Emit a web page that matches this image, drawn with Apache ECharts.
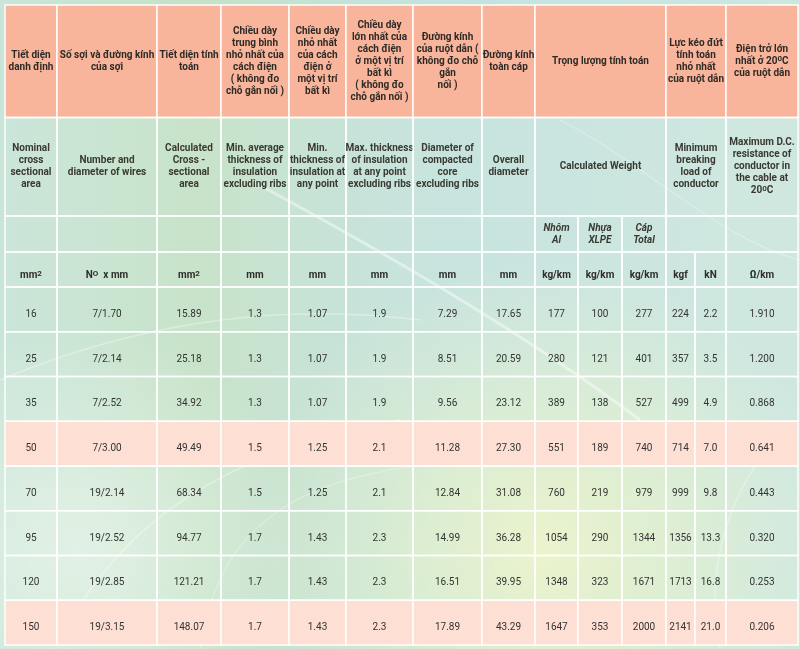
<!DOCTYPE html>
<html>
<head>
<meta charset="utf-8">
<script src="https://cdn.jsdelivr.net/npm/echarts@6/dist/echarts.min.js"></script>
<style>
  html, body { margin: 0; padding: 0; }
  #main { width: 800px; height: 649px; }
</style>
</head>
<body>
<div id="main"></div>
<script>
// tiêu đề cột (tiếng Việt)
const headVi = [
  'Tiết diện\ndanh định',
  'Số sợi và đường kính\ncủa sợi',
  'Tiết diện tính\ntoán',
  'Chiều dày\ntrung bình\nnhỏ nhất của\ncách điện\n( không đo\nchỗ gắn nối )',
  'Chiều dày\nnhỏ nhất\ncủa cách\nđiện ở\nmột vị trí\nbất kì',
  'Chiều dày\nlớn nhất của\ncách điện\nở một vị trí\nbất kì\n( không đo\nchỗ gắn nối )',
  'Đường kính\ncủa ruột dẫn (\nkhông đo chỗ\ngắn\nnối )',
  'Đường kính\ntoàn cáp',
  'Trọng lượng tính toán',
  'Lực kéo đứt\ntính toán\nnhỏ nhất\ncủa ruột dẫn',
  'Điện trở lớn\nnhất ở 20{s|0}C\ncủa ruột dẫn'
]
// tiêu đề cột (tiếng Anh)
const headEn = [
  'Nominal\ncross\nsectional\narea',
  'Number and\ndiameter of wires',
  'Calculated\nCross -\nsectional\narea',
  'Min. average\nthickness of\ninsulation\nexcluding ribs',
  'Min.\nthickness of\ninsulation at\nany point',
  'Max. thickness\nof insulation\nat any point\nexcluding ribs',
  'Diameter of\ncompacted\ncore\nexcluding ribs',
  'Overall\ndiameter',
  'Calculated Weight',
  'Minimum\nbreaking\nload of\nconductor',
  'Maximum D.C.\nresistance of\nconductor in\nthe cable at\n20{s|0}C'
]
const weightSub = ['Nhôm\nAl', 'Nhựa\nXLPE', 'Cáp\nTotal']
const units = ['mm{s|2}', 'N{s|O}  x mm', 'mm{s|2}', 'mm', 'mm', 'mm', 'mm', 'mm',
  'kg/km', 'kg/km', 'kg/km', 'kgf', 'kN', 'Ω/km']

// số liệu
const nominal     = ['16', '25', '35', '50', '70', '95', '120', '150']
const wires       = ['7/1.70', '7/2.14', '7/2.52', '7/3.00', '19/2.14', '19/2.52', '19/2.85', '19/3.15']
const calcSection = ['15.89', '25.18', '34.92', '49.49', '68.34', '94.77', '121.21', '148.07']
const minAvgThk   = ['1.3', '1.3', '1.3', '1.5', '1.5', '1.7', '1.7', '1.7']
const minThk      = ['1.07', '1.07', '1.07', '1.25', '1.25', '1.43', '1.43', '1.43']
const maxThk      = ['1.9', '1.9', '1.9', '2.1', '2.1', '2.3', '2.3', '2.3']
const coreDia     = ['7.29', '8.51', '9.56', '11.28', '12.84', '14.99', '16.51', '17.89']
const overallDia  = ['17.65', '20.59', '23.12', '27.30', '31.08', '36.28', '39.95', '43.29']
const weightAl    = ['177', '280', '389', '551', '760', '1054', '1348', '1647']
const weightXlpe  = ['100', '121', '138', '189', '219', '290', '323', '353']
const weightTotal = ['277', '401', '527', '740', '979', '1344', '1671', '2000']
const loadKgf     = ['224', '357', '499', '714', '999', '1356', '1713', '2141']
const loadKn      = ['2.2', '3.5', '4.9', '7.0', '9.8', '13.3', '16.8', '21.0']
const resistance  = ['1.910', '1.200', '0.868', '0.641', '0.443', '0.320', '0.253', '0.206']
const highlight   = ['50', '150']

const dataCols = [nominal, wires, calcSection, minAvgThk, minThk, maxThk, coreDia, overallDia,
  weightAl, weightXlpe, weightTotal, loadKgf, loadKn, resistance]

// bố cục
const colWidths = [52, 100, 64, 68, 57, 67, 69, 53, 43, 44, 44, 29, 31, 72]
const rowHeights = [112.5, 98.5, 36, 35, 44.75, 44.75, 44.75, 44.75, 44.75, 44.75, 44.75, 44.75]
const xEdge = [0]
colWidths.forEach(w => xEdge.push(xEdge[xEdge.length - 1] + w))
const yEdge = [0]
rowHeights.forEach(h => yEdge.push(yEdge[yEdge.length - 1] + h))

const FONT = 'Roboto'
const styles = {
  vi:   { fill: '#f8b59b', color: '#2e2a26', weight: 'bold', size: 10, lh: 12, dy: 0 },
  en:   { fill: 'rgba(255,255,255,0.06)', color: '#3a3a32', weight: 'bold', size: 10, lh: 12, dy: 0 },
  sub:  { fill: 'rgba(255,255,255,0.06)', color: '#3a3a32', weight: 'bold', size: 10, lh: 12, dy: 0, italic: true },
  unit: { fill: 'rgba(255,255,255,0.06)', color: '#2e2e2a', weight: 'bold', size: 10, lh: 12, dy: 6 },
  val:  { fill: 'rgba(255,255,255,0.06)', color: '#333333', weight: 'normal', size: 10, lh: 12, dy: 5 },
  valHi:{ fill: '#fddfd3', color: '#333333', weight: 'normal', size: 10, lh: 12, dy: 5 }
}

// các ô: [c0, c1, r0, r1, text, style]
const spans = [[0,1],[1,2],[2,3],[3,4],[4,5],[5,6],[6,7],[7,8],[8,11],[11,13],[13,14]]
const cells = []
spans.forEach((s, i) => cells.push([s[0], s[1], 0, 1, headVi[i], 'vi']))
spans.forEach((s, i) => cells.push([s[0], s[1], 1, 2, headEn[i], 'en']))
spans.forEach((s, i) => {
  if (s[0] === 8) {
    weightSub.forEach((t, j) => cells.push([8 + j, 9 + j, 2, 3, t, 'sub']))
  } else {
    cells.push([s[0], s[1], 2, 3, '', 'en'])
  }
})
units.forEach((u, c) => cells.push([c, c + 1, 3, 4, u, 'unit']))
nominal.forEach((n, r) => {
  const st = highlight.indexOf(n) >= 0 ? 'valHi' : 'val'
  dataCols.forEach((col, c) => cells.push([c, c + 1, 4 + r, 5 + r, col[r], st]))
})

const chart = echarts.init(document.getElementById('main'))

const option = {
  animation: false,
  backgroundColor: {
    type: 'linear', x: 0, y: 0, x2: 1, y2: 0,
    colorStops: [
      { offset: 0, color: '#c8e5d8' },
      { offset: 0.25, color: '#c5e2c6' },
      { offset: 0.42, color: '#c4e2d6' },
      { offset: 0.6, color: '#c5e3de' },
      { offset: 1, color: '#cde7de' }
    ]
  },
  graphic: [
    {
      type: 'rect', z: -10, silent: true,
      shape: { x: 0, y: 0, width: 800, height: 649 },
      style: {
        fill: {
          type: 'radial', x: 0.68, y: 0.85, r: 0.45,
          colorStops: [
            { offset: 0, color: 'rgba(240,246,196,0.85)' },
            { offset: 1, color: 'rgba(240,246,196,0)' }
          ]
        }
      }
    },
    {
      type: 'rect', z: -10, silent: true,
      shape: { x: 0, y: 0, width: 800, height: 649 },
      style: {
        fill: {
          type: 'radial', x: 0.1, y: 0.85, r: 0.35,
          colorStops: [
            { offset: 0, color: 'rgba(236,246,236,0.7)' },
            { offset: 1, color: 'rgba(236,246,236,0)' }
          ]
        }
      }
    },
    { type: 'bezierCurve', z: -9, silent: true,
      shape: { x1: 250, y1: 180, cpx1: 380, cpy1: 250, cpx2: 520, cpy2: 330, x2: 640, y2: 420 },
      style: { stroke: 'rgba(255,255,255,0.45)', lineWidth: 3, fill: null } },
    { type: 'bezierCurve', z: -9, silent: true,
      shape: { x1: 0, y1: 380, cpx1: 120, cpy1: 330, cpx2: 260, cpy2: 300, x2: 420, y2: 320 },
      style: { stroke: 'rgba(255,255,255,0.35)', lineWidth: 1.5, fill: null } },
    { type: 'bezierCurve', z: -9, silent: true,
      shape: { x1: 60, y1: 640, cpx1: 120, cpy1: 520, cpx2: 230, cpy2: 450, x2: 400, y2: 420 },
      style: { stroke: 'rgba(255,255,255,0.35)', lineWidth: 1.5, fill: null } },
    { type: 'bezierCurve', z: -9, silent: true,
      shape: { x1: 200, y1: 649, cpx1: 220, cpy1: 520, cpx2: 300, cpy2: 470, x2: 480, y2: 460 },
      style: { stroke: 'rgba(255,255,255,0.3)', lineWidth: 1.2, fill: null } },
    { type: 'bezierCurve', z: -9, silent: true,
      shape: { x1: 800, y1: 420, cpx1: 740, cpy1: 460, cpx2: 700, cpy2: 560, x2: 720, y2: 649 },
      style: { stroke: 'rgba(255,255,255,0.35)', lineWidth: 1.5, fill: null } },
    { type: 'bezierCurve', z: -9, silent: true,
      shape: { x1: 560, y1: 120, cpx1: 640, cpy1: 160, cpx2: 720, cpy2: 240, x2: 800, y2: 260 },
      style: { stroke: 'rgba(255,255,255,0.3)', lineWidth: 1.2, fill: null } }
  ],
  grid: { left: 5, right: 2, top: 5, bottom: 4 },
  xAxis: { type: 'value', min: 0, max: xEdge[xEdge.length - 1], show: false },
  yAxis: { type: 'value', min: 0, max: yEdge[yEdge.length - 1], inverse: true, show: false },
  series: [{
    type: 'custom',
    coordinateSystem: 'cartesian2d',
    data: cells.map((c, i) => [c[0], c[1], c[2], c[3], i]),
    renderItem: function (params, api) {
      const cell = cells[api.value(4)]
      const st = styles[cell[5]]
      const p0 = api.coord([xEdge[cell[0]], yEdge[cell[2]]])
      const p1 = api.coord([xEdge[cell[1]], yEdge[cell[3]]])
      const w = p1[0] - p0[0]
      const h = p1[1] - p0[1]
      return {
        type: 'group',
        children: [
          {
            type: 'rect',
            shape: { x: p0[0], y: p0[1], width: w, height: h },
            style: { fill: st.fill, stroke: 'rgba(255,255,255,0.95)', lineWidth: 1.5 }
          },
          {
            type: 'text',
            style: {
              text: cell[4],
              x: p0[0] + w / 2,
              y: p0[1] + h / 2 + st.dy,
              align: 'center',
              verticalAlign: 'middle',
              fontFamily: FONT,
              fontSize: st.size,
              fontWeight: st.weight,
              fontStyle: st.italic ? 'italic' : 'normal',
              lineHeight: st.lh,
              fill: st.color,
              rich: {
                s: { fontFamily: FONT, fontSize: 8, fontWeight: 'bold', lineHeight: 8,
                  padding: [0, 0, 5, 0], verticalAlign: 'top', fill: st.color }
              }
            }
          }
        ]
      }
    }
  }]
}

chart.setOption(option)
</script>
</body>
</html>
